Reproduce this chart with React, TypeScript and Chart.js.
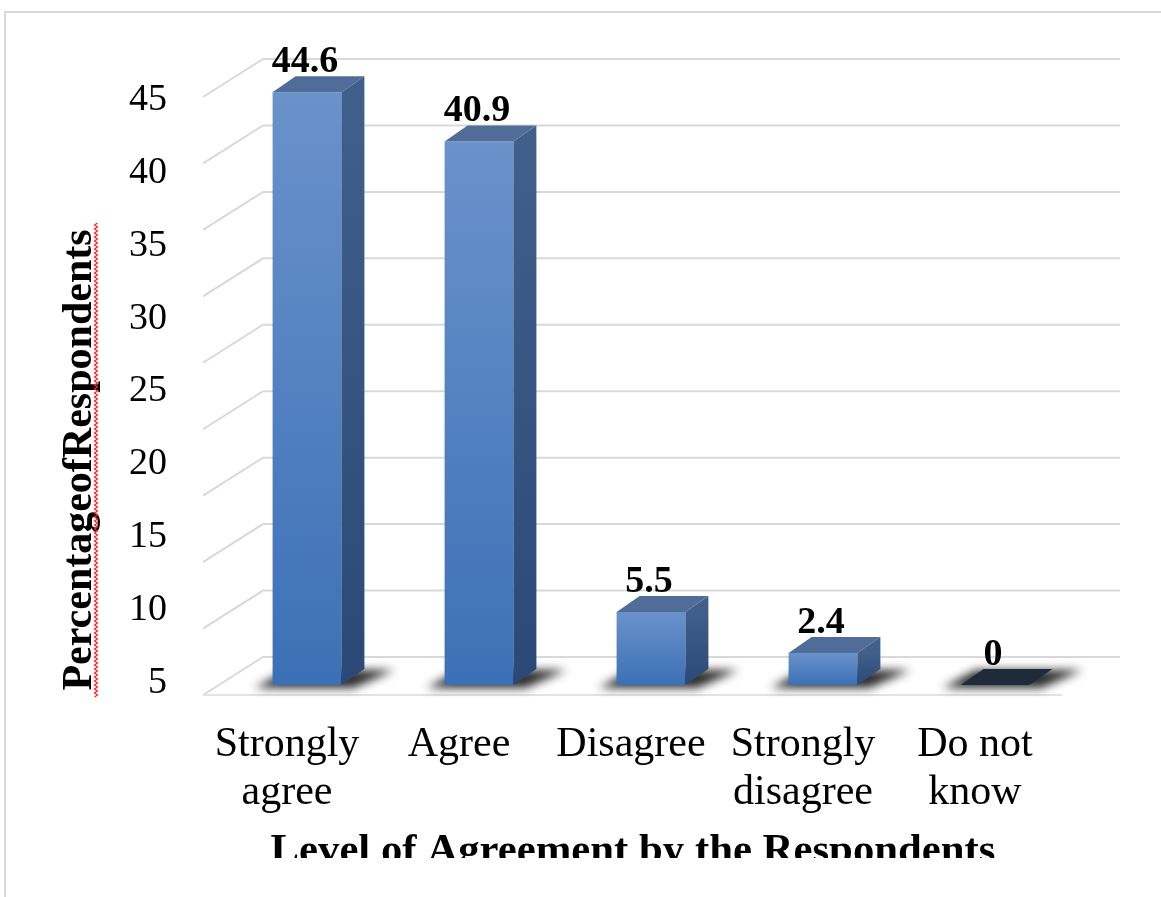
import React, { useEffect, useRef } from 'react';
import { Chart, registerables } from 'chart.js';

Chart.register(...registerables);

const categories: string[][] = [
  ['Strongly', 'agree'],
  ['Agree'],
  ['Disagree'],
  ['Strongly', 'disagree'],
  ['Do not', 'know'],
];
const values: number[] = [44.6, 40.9, 5.5, 2.4, 0];
const valueLabels: string[] = ['44.6', '40.9', '5.5', '2.4', '0'];
const yTickLabels: string[] = ['45', '40', '35', '30', '25', '20', '15', '10', '5'];
const gridValues: number[] = [0, 5, 10, 15, 20, 25, 30, 35, 40, 45];
const xTitle = 'Level of Agreement by the Respondents';
const yTitle = 'PercentageofRespondents';

const SERIF = '"Liberation Serif", "Times New Roman", serif';

export default function App() {
  const ref = useRef<HTMLCanvasElement>(null);

  useEffect(() => {
    const canvas = ref.current!;
    const DX = 23;
    const DY = -16;
    const BACK_DY = -28;
    const FRONT_DY = 10;

    const scene = {
      id: 'scene',
      beforeDraw(chart: any) {
        const ctx = chart.ctx;
        ctx.save();
        ctx.fillStyle = '#ffffff';
        ctx.fillRect(0, 0, chart.width, chart.height);
        ctx.strokeStyle = '#d9d9d9';
        ctx.lineWidth = 2;
        ctx.strokeRect(5, 12, chart.width + 20, chart.height + 20);
        ctx.restore();
      },
      beforeDatasetsDraw(chart: any) {
        const { ctx, chartArea: ca } = chart;
        const y = chart.scales.y;
        const backL = ca.left + 42;
        const backR = ca.right + 39;
        const frontL = ca.left - 18;
        const frontR = ca.right - 19;
        ctx.save();
        ctx.strokeStyle = '#d9d9d9';
        ctx.lineWidth = 2;
        gridValues.forEach((v) => {
          const yb = y.getPixelForValue(v) + BACK_DY;
          const yf = y.getPixelForValue(v) + FRONT_DY;
          ctx.beginPath();
          ctx.moveTo(frontL, yf);
          ctx.lineTo(backL, yb);
          ctx.lineTo(backR, yb);
          ctx.stroke();
        });
        const y0f = y.getPixelForValue(0) + FRONT_DY;
        ctx.strokeStyle = '#e3e3e3';
        ctx.beginPath();
        ctx.moveTo(frontL, y0f);
        ctx.lineTo(frontR, y0f);
        ctx.stroke();

        // floor shadows
        const meta = chart.getDatasetMeta(0);
        ctx.filter = 'blur(5px)';
        ctx.fillStyle = 'rgba(15,15,15,0.88)';
        meta.data.forEach((bar: any) => {
          const l = bar.x - bar.width / 2;
          const r = bar.x + bar.width / 2;
          const b = bar.base;
          ctx.beginPath();
          ctx.moveTo(l - 18, b + 3);
          ctx.lineTo(r + 12, b + 3);
          ctx.lineTo(r + DX + 30, b + DY + 1);
          ctx.lineTo(l + DX - 8, b + DY + 1);
          ctx.closePath();
          ctx.fill();
        });
        ctx.filter = 'none';
        ctx.restore();
      },
      afterDatasetsDraw(chart: any) {
        const { ctx, chartArea: ca } = chart;
        const y = chart.scales.y;
        const meta = chart.getDatasetMeta(0);
        ctx.save();
        meta.data.forEach((bar: any, i: number) => {
          const l = bar.x - bar.width / 2;
          const r = bar.x + bar.width / 2;
          const t = bar.y;
          const b = bar.base;
          if (b - t > 0.5) {
            const sg = ctx.createLinearGradient(0, t, 0, b);
            sg.addColorStop(0, '#405f8b');
            sg.addColorStop(1, '#2a4977');
            ctx.fillStyle = sg;
            ctx.beginPath();
            ctx.moveTo(r, t);
            ctx.lineTo(r + DX, t + DY);
            ctx.lineTo(r + DX, b + DY);
            ctx.lineTo(r, b);
            ctx.closePath();
            ctx.fill();
          }
          ctx.fillStyle = values[i] === 0 ? '#1f2a3a' : '#4f6d98';
          ctx.beginPath();
          ctx.moveTo(l, t);
          ctx.lineTo(r, t);
          ctx.lineTo(r + DX, t + DY);
          ctx.lineTo(l + DX, t + DY);
          ctx.closePath();
          ctx.fill();

          // value label
          ctx.fillStyle = '#000';
          ctx.font = `bold 38px ${SERIF}`;
          ctx.textAlign = 'center';
          ctx.textBaseline = 'alphabetic';
          ctx.fillText(valueLabels[i], bar.x - 2, t + DY - 4);

          // category label
          ctx.font = `42px ${SERIF}`;
          ctx.textBaseline = 'middle';
          categories[i].forEach((line, k) => {
            ctx.fillText(line, bar.x - 20, b + 60 + k * 48);
          });
        });

        // y tick labels (spread as in the source picture)
        const topPx = y.getPixelForValue(45) + 13;
        const botPx = y.getPixelForValue(0) - 2;
        ctx.font = `38px ${SERIF}`;
        ctx.textAlign = 'right';
        ctx.textBaseline = 'middle';
        yTickLabels.forEach((lab, k) => {
          const py = topPx + (k * (botPx - topPx)) / (yTickLabels.length - 1);
          ctx.fillText(lab, ca.left - 54, py);
        });

        // x title (clipped at the bottom like the source)
        ctx.save();
        ctx.beginPath();
        ctx.rect(0, 0, chart.width, 858);
        ctx.clip();
        ctx.font = `bold 43px ${SERIF}`;
        ctx.textAlign = 'center';
        ctx.textBaseline = 'alphabetic';
        ctx.fillText(xTitle, 633, 863, 725);
        ctx.restore();

        // y title with spell-check squiggle
        ctx.save();
        ctx.translate(91, 460);
        ctx.rotate(-Math.PI / 2);
        ctx.font = `bold 42px ${SERIF}`;
        ctx.textAlign = 'center';
        ctx.textBaseline = 'alphabetic';
        ctx.fillStyle = '#000';
        ctx.fillText(yTitle, 0, 0, 474);
        ctx.strokeStyle = '#ff2020';
        ctx.lineWidth = 1.2;
        ctx.beginPath();
        for (let s = -237; s <= 237; s += 2) {
          const yy = 5 + ((Math.round((s + 237) / 2) % 2) === 0 ? -1.5 : 1.5);
          if (s === -237) ctx.moveTo(s, yy);
          else ctx.lineTo(s, yy);
        }
        ctx.stroke();
        ctx.restore();

        ctx.restore();
      },
    };

    const chart = new Chart(canvas, {
      type: 'bar',
      data: {
        labels: categories,
        datasets: [
          {
            data: values,
            borderWidth: 0,
            barPercentage: 0.4,
            categoryPercentage: 1,
            backgroundColor: (c: any) => {
              const ch = c.chart;
              const ys = ch.scales && ch.scales.y;
              if (!ch.chartArea || !ys || c.raw === undefined) return '#4a7ebf';
              const top = ys.getPixelForValue(c.raw);
              const bot = ys.getPixelForValue(0);
              if (bot - top < 1) return '#4a7ebf';
              const g = ch.ctx.createLinearGradient(0, top, 0, bot);
              g.addColorStop(0, '#6a92cb');
              g.addColorStop(1, '#3c70b6');
              return g;
            },
          },
        ],
      },
      options: {
        responsive: false,
        animation: false,
        events: [],
        layout: { padding: { left: 221, right: 80, top: 87, bottom: 212 } },
        scales: {
          x: { display: false, offset: true },
          y: { display: false, min: 0, max: 45 },
        },
        plugins: {
          legend: { display: false },
          tooltip: { enabled: false },
        },
      },
      plugins: [scene],
    });

    return () => chart.destroy();
  }, []);

  return (
    <div style={{ position: 'absolute', left: 0, top: 0, width: 1161, height: 897, background: '#fff' }}>
      <canvas ref={ref} width={1161} height={897} style={{ display: 'block' }} />
    </div>
  );
}
